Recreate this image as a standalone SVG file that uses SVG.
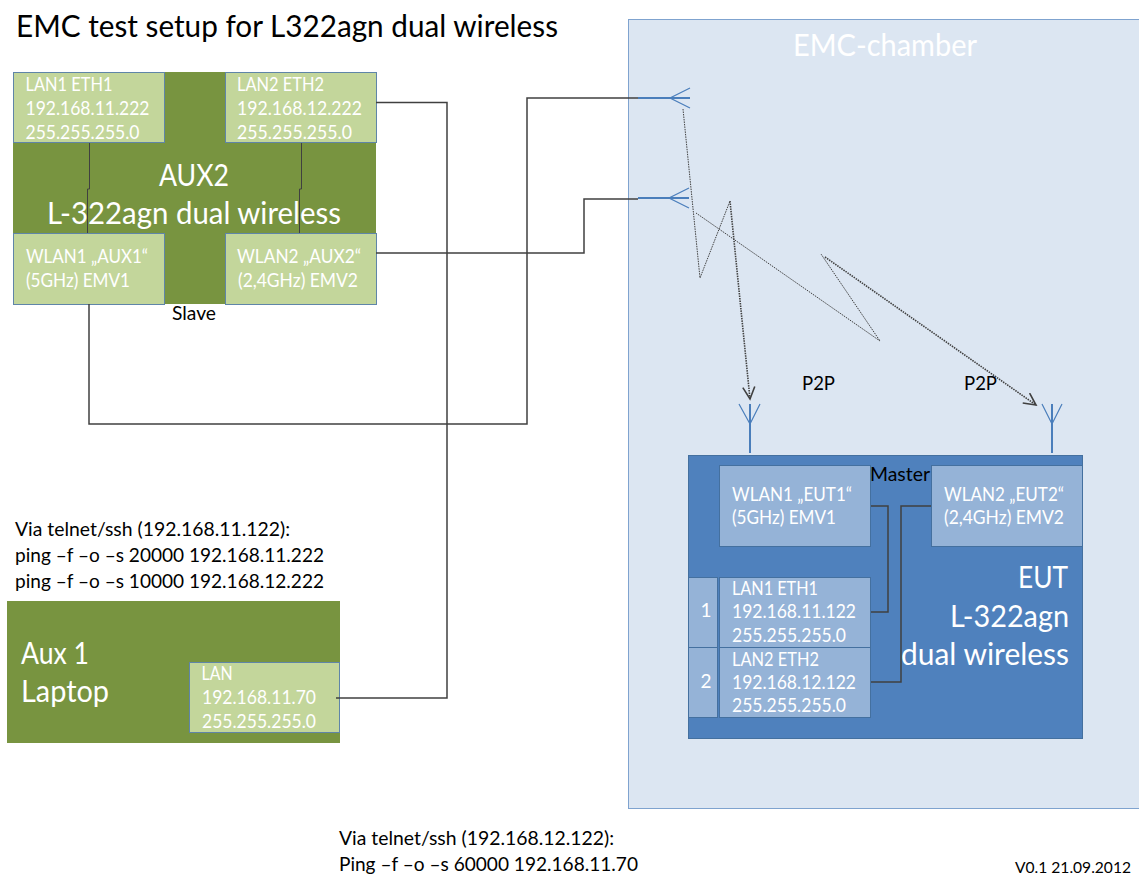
<svg xmlns="http://www.w3.org/2000/svg" width="1139" height="874" viewBox="0 0 1139 874">
<style>
text{font-family:Lato,"Open Sans","Liberation Sans",sans-serif;font-weight:400}
.k{fill:#000;font-size:19px}
.w{fill:#fff;font-size:19px}
.wb{fill:#fff;font-size:31px}
.g{fill:#789440}
.lg{fill:#c3d69b;stroke:#5f85a8;stroke-width:1}
.lb{fill:#95b3d7;stroke:#44709f;stroke-width:1}
.c{fill:none;stroke:#404040;stroke-width:1.5}
.t{fill:none;stroke:#404040;stroke-width:1}
.a{fill:none;stroke:#4a7ebb;stroke-width:1.2}
.as{fill:none;stroke:#4a7ebb;stroke-width:2}
.r{fill:none;stroke:#404040;stroke-width:1;stroke-dasharray:1.5 1}
.r2{fill:none;stroke:#404040;stroke-width:1.6;stroke-dasharray:1.5 1}
</style>
<defs>
<marker id="ah" markerUnits="userSpaceOnUse" markerWidth="18" markerHeight="18" refX="13" refY="7" orient="auto"><path d="M1 1L13 7L1 13" fill="none" stroke="#404040" stroke-width="1.6"/></marker>
</defs>
<g id="chamber">
<rect x="628.500" y="19.500" width="520" height="789" fill="#dce6f2" stroke="#7fa3cf" stroke-width="1"/>
<text x="793" y="56" fill="#fff" font-size="31" textLength="184" lengthAdjust="spacingAndGlyphs">EMC-chamber</text>
</g>
<text id="title" x="16" y="37" fill="#000" font-size="30" textLength="542" lengthAdjust="spacingAndGlyphs">EMC test setup for L322agn dual wireless</text>
<g id="aux2">
<rect x="13" y="72" width="363" height="232" class="g"/>
<text x="172" y="320" class="k" textLength="44" lengthAdjust="spacingAndGlyphs">Slave</text>
</g>
<g id="aux2-lan1"><rect x="13.500" y="72.500" width="151" height="70" class="lg"/><text class="w" x="25.500" y="91" textLength="87" lengthAdjust="spacingAndGlyphs">LAN1 ETH1</text><text class="w" x="25.500" y="115" textLength="124" lengthAdjust="spacingAndGlyphs">192.168.11.222</text><text class="w" x="25.500" y="139" textLength="114" lengthAdjust="spacingAndGlyphs">255.255.255.0</text></g>
<g id="aux2-lan2"><rect x="225.500" y="72.500" width="151" height="70" class="lg"/><text class="w" x="237" y="91" textLength="87" lengthAdjust="spacingAndGlyphs">LAN2 ETH2</text><text class="w" x="237" y="115" textLength="125" lengthAdjust="spacingAndGlyphs">192.168.12.222</text><text class="w" x="237" y="139" textLength="115" lengthAdjust="spacingAndGlyphs">255.255.255.0</text></g>
<g id="aux2-wlan1"><rect x="13.500" y="233.500" width="151" height="71" class="lg"/><text class="w" x="26" y="263" textLength="122" lengthAdjust="spacingAndGlyphs">WLAN1 „AUX1“</text><text class="w" x="26" y="287" textLength="104" lengthAdjust="spacingAndGlyphs">(5GHz) EMV1</text></g>
<g id="aux2-wlan2"><rect x="225.500" y="233.500" width="151" height="71" class="lg"/><text class="w" x="237" y="263" textLength="124" lengthAdjust="spacingAndGlyphs">WLAN2 „AUX2“</text><text class="w" x="238" y="287" textLength="120" lengthAdjust="spacingAndGlyphs">(2,4GHz) EMV2</text></g>
<g id="laptop">
<rect x="7" y="601" width="333" height="142" class="g"/>
<text class="wb" x="21" y="664" textLength="68" lengthAdjust="spacingAndGlyphs">Aux 1</text>
<text class="wb" x="21" y="702" textLength="88" lengthAdjust="spacingAndGlyphs">Laptop</text>
</g>
<g id="laptop-lan"><rect x="189.500" y="662.500" width="150" height="70" class="lg"/><text class="w" x="201.500" y="680" textLength="31" lengthAdjust="spacingAndGlyphs">LAN</text><text class="w" x="202" y="704" textLength="114" lengthAdjust="spacingAndGlyphs">192.168.11.70</text><text class="w" x="202" y="728" textLength="114" lengthAdjust="spacingAndGlyphs">255.255.255.0</text></g>
<g id="eut">
<rect x="688.500" y="455.500" width="394" height="283" fill="#4f81bd" stroke="#44709f"/>
<text x="1018" y="588" class="wb" textLength="50" lengthAdjust="spacingAndGlyphs">EUT</text>
<text x="950" y="627" class="wb" textLength="119" lengthAdjust="spacingAndGlyphs">L-322agn</text>
<text x="901" y="665" class="wb" textLength="168" lengthAdjust="spacingAndGlyphs">dual wireless</text>
<text x="870" y="481" class="k" textLength="60" lengthAdjust="spacingAndGlyphs">Master</text>
</g>
<g id="eut-wlan1"><rect x="719.500" y="465.500" width="151" height="81" class="lb"/><text class="w" x="732" y="501" textLength="120" lengthAdjust="spacingAndGlyphs">WLAN1 „EUT1“</text><text class="w" x="732" y="524" textLength="104" lengthAdjust="spacingAndGlyphs">(5GHz) EMV1</text></g>
<g id="eut-wlan2"><rect x="931.500" y="465.500" width="151" height="81" class="lb"/><text class="w" x="944" y="501" textLength="120" lengthAdjust="spacingAndGlyphs">WLAN2 „EUT2“</text><text class="w" x="944" y="524" textLength="120" lengthAdjust="spacingAndGlyphs">(2,4GHz) EMV2</text></g>
<g id="eut-port1"><rect x="688.500" y="577.500" width="29" height="70" class="lb"/><text class="w" x="706" y="617" text-anchor="middle">1</text></g>
<g id="eut-port2"><rect x="688.500" y="647.500" width="29" height="70" class="lb"/><text class="w" x="706" y="688" text-anchor="middle">2</text></g>
<g id="eut-lan1"><rect x="719.500" y="577.500" width="151" height="70" class="lb"/><text class="w" x="732" y="595" textLength="86" lengthAdjust="spacingAndGlyphs">LAN1 ETH1</text><text class="w" x="732" y="618" textLength="124" lengthAdjust="spacingAndGlyphs">192.168.11.122</text><text class="w" x="732" y="642" textLength="114" lengthAdjust="spacingAndGlyphs">255.255.255.0</text></g>
<g id="eut-lan2"><rect x="719.500" y="647.500" width="151" height="70" class="lb"/><text class="w" x="732" y="666" textLength="87" lengthAdjust="spacingAndGlyphs">LAN2 ETH2</text><text class="w" x="732" y="689" textLength="124" lengthAdjust="spacingAndGlyphs">192.168.12.122</text><text class="w" x="732" y="712" textLength="114" lengthAdjust="spacingAndGlyphs">255.255.255.0</text></g>
<g id="connectors">
<path class="t" d="M89.500 143V189H87.500V233"/>
<path class="t" d="M301.500 143V189H299.500V233"/>
<path class="c" d="M376 102.500H447V698H336"/>
<path class="c" d="M376 253H584V199H638"/>
<path class="c" d="M89 304V424H527V98H638"/>
<path class="c" d="M871 506H888V612H871"/>
<path class="c" d="M931 506H901V682H871"/>
<path class="as" d="M638 98H690M638 198H689"/>
<path class="a" d="M690 88L670 98L690 108M689 188L669 198L689 208"/>
<path class="as" d="M750 453V404M1052 453V404"/>
<path class="a" d="M739 404L750 424L760 404M1042 404L1052 424L1062 404"/>
<path class="r" d="M683 109L700 278L730 201"/>
<path class="r2" d="M730 201L750 399" marker-end="url(#ah)"/>
<path class="r" d="M696 213L880 341L821 254"/>
<path class="r2" d="M825 257L1036 405" marker-end="url(#ah)"/>
</g>
<g id="aux2-label">
<text class="wb" x="159" y="186" textLength="70" lengthAdjust="spacingAndGlyphs">AUX2</text>
<text class="wb" x="47" y="224" textLength="294" lengthAdjust="spacingAndGlyphs">L-322agn dual wireless</text>
</g>
<g id="labels">
<text class="k" x="802" y="390" textLength="33" lengthAdjust="spacingAndGlyphs">P2P</text>
<text class="k" x="964" y="390" textLength="33" lengthAdjust="spacingAndGlyphs">P2P</text>
<text class="k" x="15" y="536" textLength="275" lengthAdjust="spacingAndGlyphs">Via telnet/ssh (192.168.11.122):</text>
<text class="k" x="15" y="562" textLength="309" lengthAdjust="spacingAndGlyphs">ping –f –o –s 20000 192.168.11.222</text>
<text class="k" x="15" y="588" textLength="309" lengthAdjust="spacingAndGlyphs">ping –f –o –s 10000 192.168.12.222</text>
<text class="k" x="339" y="845" textLength="275" lengthAdjust="spacingAndGlyphs">Via telnet/ssh (192.168.12.122):</text>
<text class="k" x="339" y="871" textLength="299" lengthAdjust="spacingAndGlyphs">Ping –f –o –s 60000 192.168.11.70</text>
<text x="1015" y="873" fill="#000" font-size="15" textLength="116" lengthAdjust="spacingAndGlyphs">V0.1 21.09.2012</text>
</g>
</svg>
